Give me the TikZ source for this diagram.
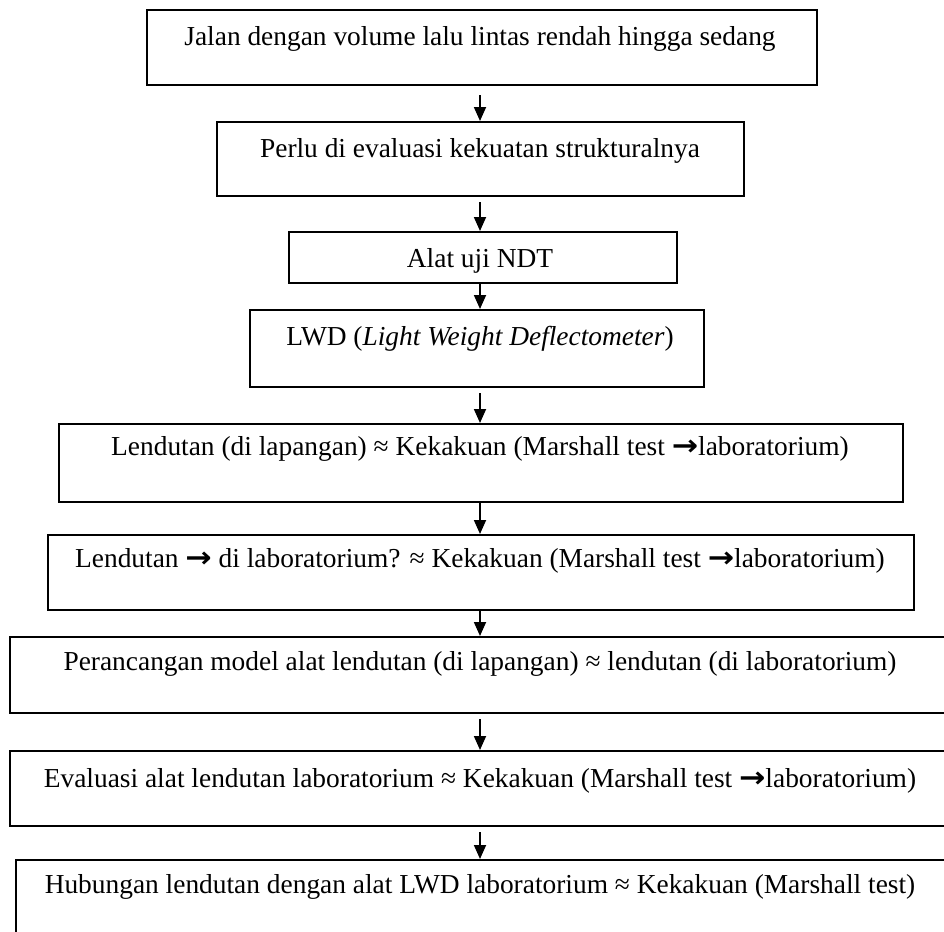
\documentclass[tikz,border=0pt]{standalone}
\usepackage{fontspec}
\setmainfont{Liberation Serif}
\newfontfamily\symfont{DejaVu Sans}
\usetikzlibrary{arrows.meta}
\newcommand{\arw}{{\symfont\bfseries\scalebox{1.15}[1.05]{→}}}
\begin{document}
\begin{tikzpicture}[x=0.5pt,y=-0.5pt,
  box/.style={draw, line width=1.1pt, inner sep=0pt, anchor=north west},
  lbl/.style={font=\fontsize{13.7pt}{16pt}\selectfont, inner sep=0pt, anchor=base},
  arr/.style={line width=0.9pt, -{Triangle[width=6pt,length=7pt]}}]
\useasboundingbox (0,0) rectangle (944,932);
\clip (0,0) rectangle (944,932);
\coordinate (ax) at (480,0);

\node[box, minimum width=335pt, minimum height=37.5pt] (b1) at (146,9) {};
\node[box, minimum width=263.5pt, minimum height=37pt] (b2) at (216,121) {};
\node[box, minimum width=194pt, minimum height=25.5pt] (b3) at (288,231) {};
\node[box, minimum width=227pt, minimum height=38.5pt] (b4) at (249,309) {};
\node[box, minimum width=422pt, minimum height=39pt] (b5) at (58,423) {};
\node[box, minimum width=433pt, minimum height=37.5pt] (b6) at (47,534) {};
\node[box, minimum width=475.5pt, minimum height=38pt] (b7) at (9,636) {};
\node[box, minimum width=475.5pt, minimum height=37.5pt] (b8) at (9,750) {};
\node[box, minimum width=472.5pt, minimum height=50pt] (b9) at (15,859) {};

\node[lbl] (t1) at (480,45) {Jalan dengan volume lalu lintas rendah hingga sedang};
\node[lbl] (t2) at (480,157) {Perlu di evaluasi kekuatan strukturalnya};
\node[lbl] (t3) at (480,267) {Alat uji NDT};
\node[lbl] (t4) at (480,345) {LWD (\textit{Light Weight Deflectometer})};
\node[lbl] (t5) at (480,455) {Lendutan (di lapangan) ≈ Kekakuan (Marshall test \arw laboratorium)};
\node[lbl] (t6) at (480,567) {Lendutan \arw{} di laboratorium? ≈ Kekakuan (Marshall test \arw laboratorium)};
\node[lbl] (t7) at (480,670) {Perancangan model alat lendutan (di lapangan) ≈ lendutan (di laboratorium)};
\node[lbl] (t8) at (480,787) {Evaluasi alat lendutan laboratorium ≈ Kekakuan (Marshall test \arw laboratorium)};
\node[lbl] (t9) at (480,893) {Hubungan lendutan dengan alat LWD laboratorium ≈ Kekakuan (Marshall test)};

\draw[arr, shorten <=4.5pt] (b1.south -| ax) -- (b2.north -| ax);
\draw[arr, shorten <=2.5pt] (b2.south -| ax) -- (b3.north -| ax);
\draw[arr] (b3.south -| ax) -- (b4.north -| ax);
\draw[arr, shorten <=2.5pt] (b4.south -| ax) -- (b5.north -| ax);
\draw[arr] (b5.south -| ax) -- (b6.north -| ax);
\draw[arr] (b6.south -| ax) -- (b7.north -| ax);
\draw[arr, shorten <=2.5pt] (b7.south -| ax) -- (b8.north -| ax);
\draw[arr, shorten <=2.5pt] (b8.south -| ax) -- (b9.north -| ax);
\end{tikzpicture}
\end{document}
